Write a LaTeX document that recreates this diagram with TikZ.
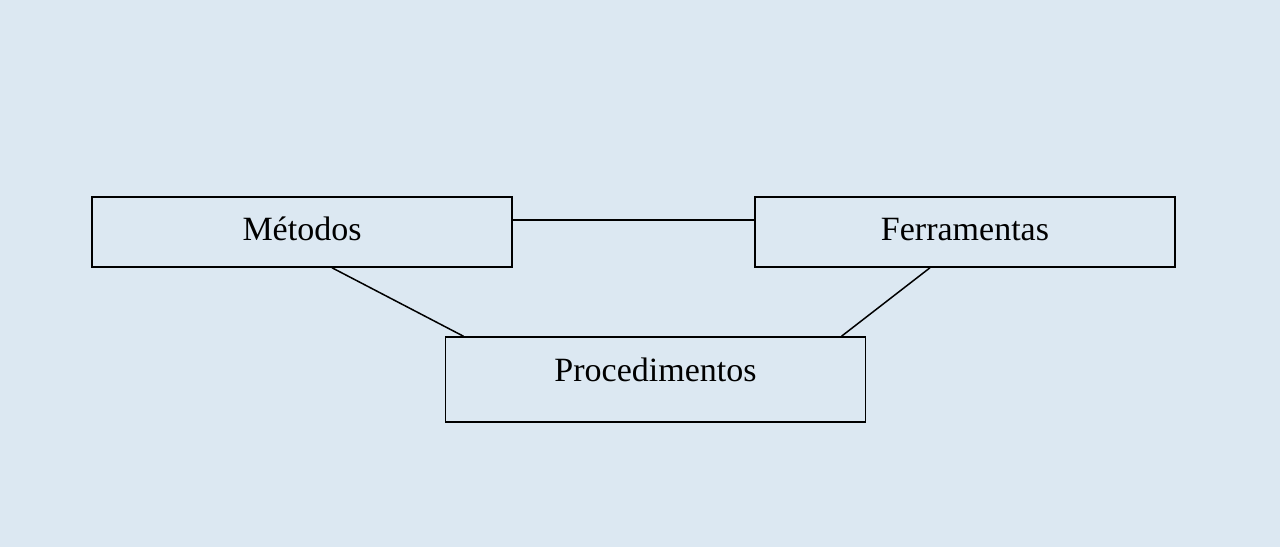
\documentclass[tikz,border=0pt]{standalone}
\usepackage{fontspec}
\setmainfont{Liberation Serif}
\definecolor{bgblue}{RGB}{220,232,242}
\begin{document}
\begin{tikzpicture}[x=1pt,y=-1pt,
    caixa/.style={draw=black,line width=1.5pt,minimum width=420pt,align=center,font=\fontsize{34}{40}\selectfont}]
        \fill [bgblue] (0,0) rectangle (1280,547);
        \useasboundingbox (0,0) rectangle (1280,547);
        \node [caixa,minimum height=70pt,text depth=6pt] (met) at (302,232) {Métodos};
        \node [caixa,minimum height=70pt,text depth=6pt] (fer) at (965,232) {Ferramentas};
        \node [caixa,minimum height=85pt,text depth=20pt] (pro) at (655.5,379.5) {Procedimentos};
        \draw [line width=1.5pt] ([yshift=12pt]met.east) -- ([yshift=12pt]fer.west);
        \draw [line width=1.5pt] ([xshift=30pt]met.south) -- ([xshift=-192pt]pro.north);
        \draw [line width=1.5pt] ([xshift=-35pt]fer.south) -- ([xshift=186pt]pro.north);
    \end{tikzpicture}
\end{document}
